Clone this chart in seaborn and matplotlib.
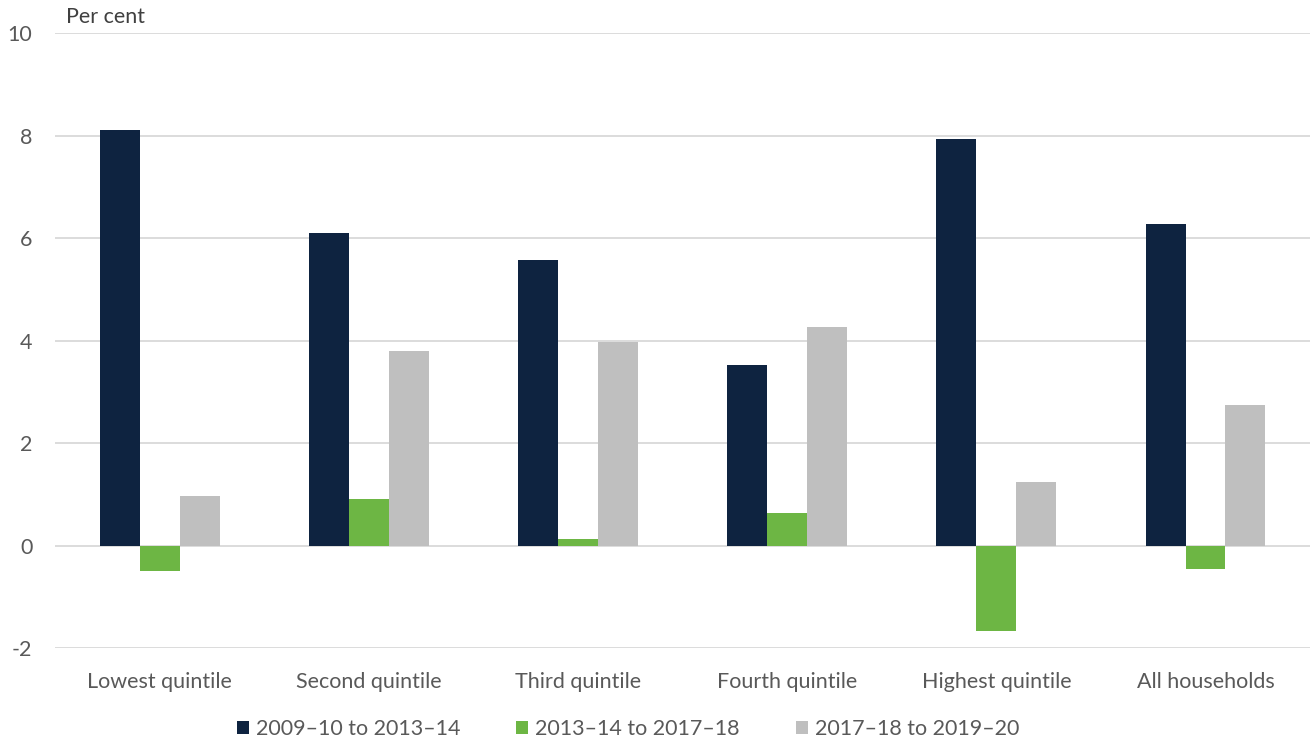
import matplotlib
matplotlib.use("Agg")
import matplotlib.pyplot as plt
import seaborn as sns
import pandas as pd

categories = ["Lowest quintile", "Second quintile", "Third quintile",
              "Fourth quintile", "Highest quintile", "All households"]
series_names = ["2009\u201310 to 2013\u201314", "2013\u201314 to 2017\u201318", "2017\u201318 to 2019\u201320"]
s1 = [8.11, 6.10, 5.57, 3.53, 7.93, 6.28]
s2 = [-0.49, 0.90, 0.12, 0.64, -1.66, -0.45]
s3 = [0.97, 3.80, 3.98, 4.27, 1.23, 2.75]
colors = ["#0E2340", "#6DB644", "#BFBFBF"]
yticks = [-2, 0, 2, 4, 6, 8, 10]

rows = []
for name, vals in zip(series_names, [s1, s2, s3]):
    for c, v in zip(categories, vals):
        rows.append({"category": c, "series": name, "value": v})
df = pd.DataFrame(rows)

sns.set_theme(style="white")
plt.rcParams["font.family"] = ["Lato", "DejaVu Sans"]

fig = plt.figure(figsize=(13.14, 7.4), dpi=100)
ax = fig.add_axes([0.042, 0.1243, 0.955, 0.8311])

sns.barplot(data=df, x="category", y="value", hue="series", order=categories,
            hue_order=series_names, palette=colors, width=0.573, gap=0,
            saturation=1, ax=ax, legend=True, zorder=3, linewidth=0)

ax.set_ylim(-2, 10)
ax.set_xlim(-0.5, 5.5)
ax.set_yticks(yticks)
ax.set_yticklabels([str(t) for t in yticks])
ax.yaxis.grid(True, color="#D9D9D9", linewidth=1.3, zorder=0)
ax.set_axisbelow(True)
for s in ax.spines.values():
    s.set_visible(False)
ax.set_xlabel("")
ax.set_ylabel("")
ax.tick_params(axis="y", labelsize=15.5, labelcolor="#595959", length=0, pad=16.5)
ax.tick_params(axis="x", labelsize=15.5, labelcolor="#595959", length=0, pad=17)

fig.text(0.050, 0.977, "Per cent", fontsize=15.5, color="#404040", va="center", ha="left")

handles, labels = ax.get_legend_handles_labels()
ax.legend(handles, labels, loc="center", ncol=3,
          frameon=False, fontsize=15.5, labelcolor="#595959", handlelength=0.56, handleheight=0.56,
          handletextpad=0.33, columnspacing=2.6)
leg = ax.get_legend()
leg.set_bbox_to_anchor((0.478, 0.015), transform=fig.transFigure)

fig.savefig("out.png", dpi=100)
